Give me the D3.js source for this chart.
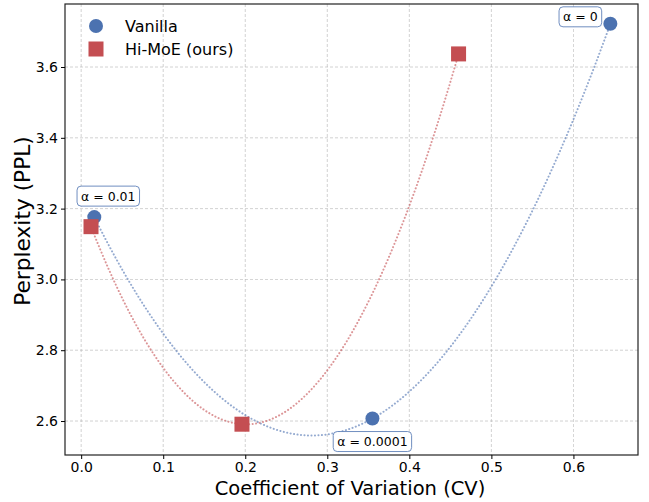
<!DOCTYPE html>
<html><head><meta charset="utf-8">
<script src="https://cdn.jsdelivr.net/npm/d3@7"></script>
<style>body{margin:0;background:#fff}svg{display:block;font-family:"DejaVu Sans",sans-serif}</style>
</head><body><svg id="c" width="649" height="502"></svg>
<script>
const vanillaCV = [0.016, 0.355, 0.645];
const vanillaPPL = [3.176, 2.607, 3.722];
const himoeCV = [0.012, 0.196, 0.460];
const himoePPL = [3.149, 2.591, 3.637];
const alphaLabels = ["α = 0.01", "α = 0.0001", "α = 0"];
const xTicks = [0.0, 0.1, 0.2, 0.3, 0.4, 0.5, 0.6];
const yTicks = [2.6, 2.8, 3.0, 3.2, 3.4, 3.6];
const seriesNames = ["Vanilla", "Hi-MoE (ours)"];

const svg = d3.select("#c");
const L = 65, R = 638, T = 4, B = 455;
const x = d3.scaleLinear().domain([-0.0197, 0.6787]).range([L, R]);
const y = d3.scaleLinear().domain([2.504, 3.778]).range([B, T]);
const blue = "#4c72b0", red = "#c44e52";

// grid
const g = svg.append("g");
g.selectAll(".gx").data(xTicks).join("line").attr("x1", d => x(d)).attr("x2", d => x(d)).attr("y1", T).attr("y2", B)
  .attr("stroke", "#b0b0b0").attr("stroke-dasharray", "3,2").attr("stroke-width", 0.8).attr("opacity", 0.7);
g.selectAll(".gy").data(yTicks).join("line").attr("y1", d => y(d)).attr("y2", d => y(d)).attr("x1", L).attr("x2", R)
  .attr("stroke", "#b0b0b0").attr("stroke-dasharray", "3,2").attr("stroke-width", 0.8).attr("opacity", 0.7);

// quadratic fit through the three points
function quad(xs, ys) {
  const [x0, x1, x2] = xs, [y0, y1, y2] = ys;
  const f01 = (y1 - y0) / (x1 - x0), f12 = (y2 - y1) / (x2 - x1);
  const a = (f12 - f01) / (x2 - x0);
  return t => y0 + f01 * (t - x0) + a * (t - x0) * (t - x1);
}
function curve(xs, ys, color) {
  const f = quad(xs, ys);
  const lo = d3.min(xs), hi = d3.max(xs);
  const pts = d3.range(0, 201).map(i => lo + (hi - lo) * i / 200).map(t => [t, f(t)]);
  svg.append("path").datum(pts).attr("fill", "none").attr("stroke", color).attr("stroke-width", 2)
    .attr("stroke-dasharray", "0.1,3.4").attr("stroke-linecap", "round").attr("opacity", 0.6)
    .attr("d", d3.line().x(d => x(d[0])).y(d => y(d[1])));
}
curve(vanillaCV, vanillaPPL, blue);
curve(himoeCV, himoePPL, red);

// markers
svg.selectAll(".v").data(vanillaCV).join("circle").attr("cx", d => x(d)).attr("cy", (d, i) => y(vanillaPPL[i]))
  .attr("r", 7).attr("fill", blue);
svg.selectAll(".h").data(himoeCV).join("rect").attr("x", d => x(d) - 7.5).attr("y", (d, i) => y(himoePPL[i]) - 7.5)
  .attr("width", 15).attr("height", 15).attr("fill", red);

// annotations
const offs = [[14, -21], [0, 23], [-30, -7]];
alphaLabels.forEach((lab, i) => {
  const cx = x(vanillaCV[i]) + offs[i][0], cy = y(vanillaPPL[i]) + offs[i][1];
  const t = svg.append("text").attr("x", cx).attr("y", cy).attr("text-anchor", "middle").attr("dominant-baseline", "central")
    .attr("font-size", 12.5).attr("fill", "#000").text(lab);
  const bb = t.node().getBBox();
  svg.insert("rect", () => t.node()).attr("x", bb.x - 4).attr("y", cy - 10).attr("width", bb.width + 8).attr("height", 20)
    .attr("rx", 4).attr("fill", "#fff").attr("stroke", blue).attr("stroke-width", 1).attr("stroke-opacity", 0.8);
});

// frame
svg.append("rect").attr("x", L).attr("y", T).attr("width", R - L).attr("height", B - T).attr("fill", "none")
  .attr("stroke", "#222").attr("stroke-width", 1.2);

// axes
const ax = svg.append("g").attr("transform", `translate(0,${B})`)
  .call(d3.axisBottom(x).tickValues(xTicks).tickFormat(d3.format(".1f")).tickSize(4).tickPadding(3));
const ay = svg.append("g").attr("transform", `translate(${L},0)`)
  .call(d3.axisLeft(y).tickValues(yTicks).tickFormat(d3.format(".1f")).tickSize(4).tickPadding(3));
[ax, ay].forEach(a => {
  a.select(".domain").remove();
  a.selectAll("text").attr("font-size", 14).attr("font-family", "DejaVu Sans").attr("fill", "#000");
  a.selectAll("line").attr("stroke", "#000");
});

svg.append("text").attr("x", 350).attr("y", 495).attr("text-anchor", "middle").attr("font-size", 19.5).text("Coefficient of Variation (CV)");
svg.append("text").attr("transform", `translate(30,221) rotate(-90)`).attr("text-anchor", "middle").attr("font-size", 21.7).text("Perplexity (PPL)");

// legend
const lg = svg.append("g");
lg.append("circle").attr("cx", 96).attr("cy", 26).attr("r", 7).attr("fill", blue);
lg.append("rect").attr("x", 88.5).attr("y", 41.5).attr("width", 15).attr("height", 15).attr("fill", red);
lg.selectAll("text").data(seriesNames).join("text").attr("x", 125).attr("y", (d, i) => 26 + i * 23)
  .attr("dominant-baseline", "central").attr("font-size", 16).text(d => d);
</script></body></html>
